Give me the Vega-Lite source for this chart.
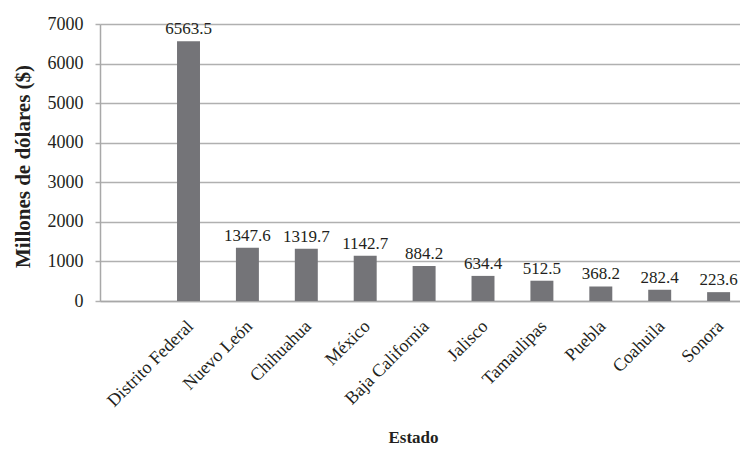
{
  "$schema": "https://vega.github.io/schema/vega-lite/v6.json",
  "width": 640,
  "height": 277,
  "autosize": "none",
  "padding": {"left": 100, "top": 24, "right": 0, "bottom": 149},
  "background": "white",
  "config": {
    "font": "Liberation Serif",
    "view": {"stroke": null}
  },
  "data": {
    "values": [
      {"estado": "Distrito Federal", "millones": 6563.5},
      {"estado": "Nuevo León", "millones": 1347.6},
      {"estado": "Chihuahua", "millones": 1319.7},
      {"estado": "México", "millones": 1142.7},
      {"estado": "Baja California", "millones": 884.2},
      {"estado": "Jalisco", "millones": 634.4},
      {"estado": "Tamaulipas", "millones": 512.5},
      {"estado": "Puebla", "millones": 368.2},
      {"estado": "Coahuila", "millones": 282.4},
      {"estado": "Sonora", "millones": 223.6}
    ]
  },
  "encoding": {
    "x": {
      "field": "estado",
      "type": "nominal",
      "sort": null,
      "scale": {"paddingInner": 0.61, "paddingOuter": 0.738, "align": 0.886},
      "axis": {
        "title": "Estado",
        "titleFontSize": 17,
        "titleFontWeight": "bold",
        "titleColor": "#231f20",
        "titleX": 313,
        "titleY": 136,
        "titleBaseline": "middle",
        "labelAngle": -45,
        "labelAlign": "right",
        "labelBaseline": "top",
        "labelPadding": 16,
        "labelOffset": -4,
        "labelFontSize": 18,
        "labelColor": "#231f20",
        "ticks": false,
        "domainColor": "#a8a8a8",
        "domainWidth": 1.5
      }
    },
    "y": {
      "field": "millones",
      "type": "quantitative",
      "scale": {"domain": [0, 7000], "nice": false},
      "axis": {
        "title": "Millones de dólares ($)",
        "titleFontSize": 21,
        "titleFontWeight": "bold",
        "titleColor": "#231f20",
        "titleAngle": -90,
        "titleX": -77,
        "titleY": 142,
        "titleBaseline": "middle",
        "values": [0, 1000, 2000, 3000, 4000, 5000, 6000, 7000],
        "format": "d",
        "labelFontSize": 18,
        "labelColor": "#231f20",
        "labelPadding": 12,
        "tickSize": 5,
        "tickColor": "#b0b0b0",
        "tickWidth": 1.5,
        "domainColor": "#a8a8a8",
        "domainWidth": 1.5,
        "grid": true,
        "gridColor": "#b0b0b0",
        "gridWidth": 1.5
      }
    }
  },
  "layer": [
    {"mark": {"type": "bar", "color": "#747478"}},
    {
      "mark": {"type": "text", "baseline": "bottom", "dy": -3, "fontSize": 17, "color": "#231f20"},
      "encoding": {"text": {"field": "millones", "type": "quantitative", "format": ".1f"}}
    }
  ]
}
